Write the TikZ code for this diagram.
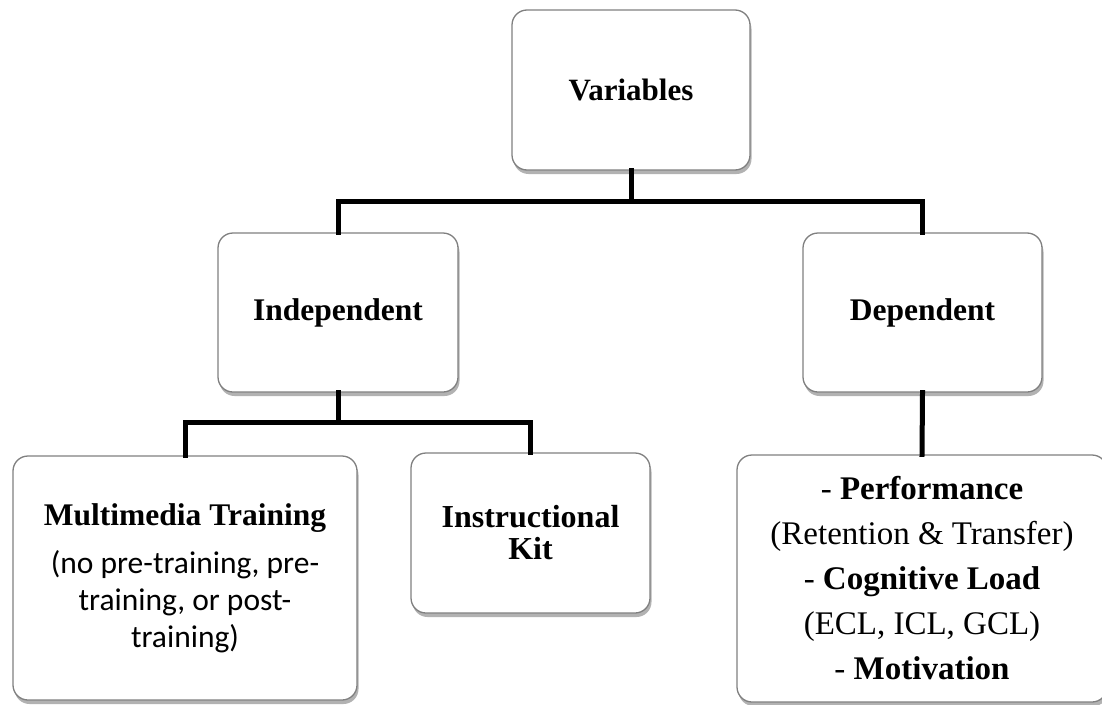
\documentclass[tikz,border=0pt]{standalone}
\usepackage{fontspec}
\setmainfont{Liberation Serif}
\newfontfamily\calibri{Carlito}
\usetikzlibrary{shadows}
\begin{document}
\begin{tikzpicture}[x=1pt,y=-1pt,
  box/.style={draw=black!50, line width=1.3pt, fill=white, rounded corners=15pt,
    align=center, inner sep=0pt,
    drop shadow={shadow xshift=1.5pt, shadow yshift=-4pt, opacity=0.3, fill=black}},
  conn/.style={line width=5pt, line cap=rect, line join=miter}]
\useasboundingbox (0,0) rectangle (1102,704);
\node[box, minimum width=238pt, minimum height=160pt,
  font=\fontsize{31}{36}\selectfont\bfseries] (var) at (631,90) {Variables};
\node[box, minimum width=240pt, minimum height=159pt,
  font=\fontsize{31.5}{36}\selectfont\bfseries] (ind) at (338,312.5) {Independent};
\node[box, minimum width=239pt, minimum height=159pt,
  font=\fontsize{31.5}{36}\selectfont\bfseries] (dep) at (922.5,312.5) {Dependent};
\node[box, minimum width=344pt, minimum height=244pt,
  font=\fontsize{31.5}{37}\selectfont] (mm) at (185,578)
  {\textbf{Multimedia Training}\\[11pt]{\calibri (no pre-training, pre-}\\{\calibri training, or post-}\\{\calibri training)}};
\node[box, minimum width=239pt, minimum height=160pt,
  font=\fontsize{32}{32}\selectfont\bfseries] (kit) at (530.5,533) {Instructional\\Kit};
\node[box, minimum width=370pt, minimum height=247pt,
  font=\fontsize{33}{45}\selectfont] (list) at (922,578.5)
  {- \textbf{Performance}\\(Retention \& Transfer)\\- \textbf{Cognitive Load}\\(ECL, ICL, GCL)\\- \textbf{Motivation}};
\coordinate (j1) at (631,201);
\coordinate (j2) at (338,422);
\draw[conn] (var.south) -- (j1);
\draw[conn] (ind.north) |- (j1) -| (dep.north);
\draw[conn] (ind.south) -- (j2);
\draw[conn] (mm.north) |- (j2) -| (kit.north);
\draw[conn] (dep.south) -- (list.north);
\end{tikzpicture}
\end{document}
